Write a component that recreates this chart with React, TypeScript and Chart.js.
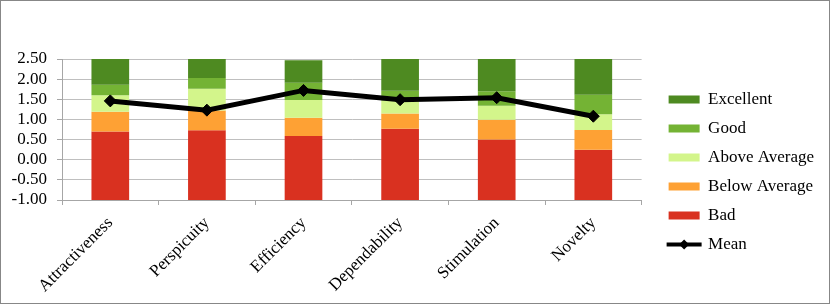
import React, { useEffect, useRef } from 'react';
import { Chart, registerables } from 'chart.js';

Chart.register(...registerables);

// ---- data ----
const categories = ['Attractiveness', 'Perspicuity', 'Efficiency', 'Dependability', 'Stimulation', 'Novelty'];
const axisFloor = [-1, -1, -1, -1, -1, -1];
const badTop = [0.70, 0.73, 0.59, 0.77, 0.50, 0.25];
const belowAverageTop = [1.19, 1.22, 1.04, 1.15, 0.99, 0.74];
const aboveAverageTop = [1.60, 1.76, 1.48, 1.47, 1.34, 1.13];
const goodTop = [1.86, 2.03, 1.91, 1.71, 1.70, 1.61];
const excellentTop = [2.50, 2.50, 2.47, 2.50, 2.50, 2.50];
const meanValues = [1.46, 1.23, 1.72, 1.49, 1.54, 1.08];
const yMin = -1;
const yMax = 2.5;
const yStep = 0.5;

const FONT = "'Liberation Serif', 'Times New Roman', serif";
const GRID = '#bfbfbf';
const AXIS = '#a6a6a6';
const BOX_W = 31;

const span = (lo: number[], hi: number[]) => lo.map((l, i) => [l, hi[i]]);

const meanLegendPlugin = {
  id: 'meanLegendMarker',
  afterDraw(chart: any) {
    const legend = chart.legend;
    if (!legend || !legend.legendItems) return;
    const idx = legend.legendItems.findIndex((i: any) => i.text === 'Mean');
    const hb = legend.legendHitBoxes && legend.legendHitBoxes[idx];
    if (!hb) return;
    const ctx = chart.ctx;
    const cy = hb.top + hb.height / 2;
    const x0 = hb.left - 2;
    const x1 = hb.left + BOX_W + 2;
    const cx = hb.left + BOX_W / 2;
    ctx.save();
    ctx.strokeStyle = '#000';
    ctx.fillStyle = '#000';
    ctx.lineWidth = 4;
    ctx.beginPath();
    ctx.moveTo(x0, cy);
    ctx.lineTo(x1, cy);
    ctx.stroke();
    const r = 5;
    ctx.beginPath();
    ctx.moveTo(cx - r, cy);
    ctx.lineTo(cx, cy - r);
    ctx.lineTo(cx + r, cy);
    ctx.lineTo(cx, cy + r);
    ctx.closePath();
    ctx.fill();
    ctx.restore();
  },
};

export default function App() {
  const ref = useRef<HTMLCanvasElement>(null);

  useEffect(() => {
    document.body.style.margin = '0';
    if (!ref.current) return;
    const barCommon = {
      type: 'bar' as const,
      grouped: false,
      barPercentage: 0.39,
      categoryPercentage: 1,
      borderWidth: 0,
      xAxisID: 'x',
      yAxisID: 'y',
      order: 0,
    };
    const chart = new Chart(ref.current, {
      type: 'bar',
      data: {
        labels: categories,
        datasets: [
          { ...barCommon, label: 'Excellent', data: span(goodTop, excellentTop), backgroundColor: '#4e8a21' },
          { ...barCommon, label: 'Good', data: span(aboveAverageTop, goodTop), backgroundColor: '#74b334' },
          { ...barCommon, label: 'Above Average', data: span(belowAverageTop, aboveAverageTop), backgroundColor: '#d3f58b' },
          { ...barCommon, label: 'Below Average', data: span(badTop, belowAverageTop), backgroundColor: '#fea134' },
          { ...barCommon, label: 'Bad', data: span(axisFloor, badTop), backgroundColor: '#d93120' },
          {
            type: 'line',
            label: 'Mean',
            data: meanValues,
            xAxisID: 'x',
            yAxisID: 'y',
            borderColor: '#000',
            backgroundColor: '#000',
            borderWidth: 5,
            pointStyle: 'rectRot',
            pointRadius: 6,
            pointBorderWidth: 1,
            pointBackgroundColor: '#000',
            pointBorderColor: '#000',
            tension: 0,
            order: -1,
          },
        ] as any,
      },
      options: {
        responsive: false,
        animation: false,
        layout: { padding: { top: 40, bottom: 0, left: 0, right: 5 } },
        plugins: {
          tooltip: { enabled: false },
          legend: {
            position: 'right',
            align: 'center',
            maxWidth: 220,
            labels: {
              font: { family: FONT, size: 17 },
              color: '#000',
              boxWidth: BOX_W,
              boxHeight: 8,
              padding: 12,
              sort: (a: any, b: any) => a.datasetIndex - b.datasetIndex,
              generateLabels: (c: any) => {
                const items = (Chart.defaults.plugins.legend.labels as any).generateLabels(c);
                return items.map((it: any) =>
                  it.text === 'Mean'
                    ? { ...it, fillStyle: 'rgba(0,0,0,0)', strokeStyle: 'rgba(0,0,0,0)', lineWidth: 0 }
                    : { ...it, lineWidth: 0 }
                );
              },
            },
          },
        },
        scales: {
          x: {
            offset: true,
            grid: { display: true, drawOnChartArea: false, drawTicks: true, tickLength: 5, color: AXIS, offset: true },
            border: { display: true, color: AXIS },
            ticks: { font: { family: FONT, size: 17 }, color: '#000', minRotation: 45, maxRotation: 45, autoSkip: false, padding: 8 },
            afterFit: (s: any) => { s.height = 103; },
          },
          padTop: {
            type: 'linear',
            position: 'top',
            display: true,
            grid: { display: false, drawTicks: false },
            border: { display: false },
            ticks: { display: false },
            afterFit: (s: any) => { s.height = 18; },
          },
          y: {
            min: yMin,
            max: yMax,
            ticks: {
              stepSize: yStep,
              autoSkip: false,
              font: { family: FONT, size: 17 },
              color: '#000',
              padding: 10,
              callback: (v: any) => Number(v).toFixed(2),
            },
            grid: { color: GRID, tickColor: AXIS, tickLength: 5, drawTicks: true },
            border: { display: true, color: AXIS },
            afterFit: (s: any) => { s.width = 61; },
          },
          pad: {
            type: 'linear',
            position: 'right',
            display: true,
            grid: { display: false, drawTicks: false },
            border: { display: false },
            ticks: { display: false },
            afterFit: (s: any) => { s.width = 15; },
          },
        },
      } as any,
      plugins: [meanLegendPlugin],
    });
    return () => chart.destroy();
  }, []);

  return (
    <div style={{ width: 828, height: 302, border: '1px solid #878787' }}>
      <canvas ref={ref} width={828} height={302} style={{ display: 'block' }} />
    </div>
  );
}
